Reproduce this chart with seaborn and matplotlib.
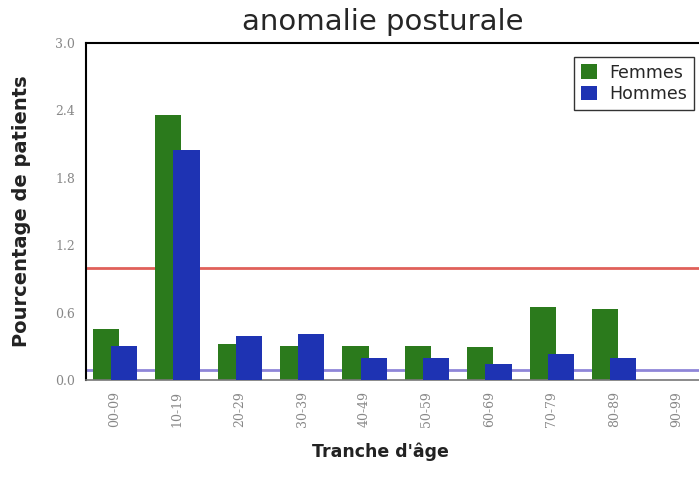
import pandas as pd
import matplotlib
matplotlib.use("Agg")
import matplotlib.pyplot as plt
import seaborn as sns

tranches = ["00-09", "10-19", "20-29", "30-39", "40-49",
            "50-59", "60-69", "70-79", "80-89", "90-99"]
femmes = [0.45, 2.36, 0.32, 0.30, 0.30, 0.30, 0.29, 0.65, 0.63, 0.0]
hommes = [0.30, 2.05, 0.39, 0.41, 0.20, 0.20, 0.14, 0.23, 0.20, 0.0]
ref_haut = 1.0   # red reference line
ref_bas = 0.09   # purple reference line

df = pd.DataFrame({
    "tranche": tranches * 2,
    "valeur": femmes + hommes,
    "sexe": ["Femmes"] * len(tranches) + ["Hommes"] * len(tranches),
})

sns.set_style("white")
fig = plt.figure(figsize=(6.99, 4.94), dpi=100)
ax = fig.add_axes([86 / 699, 114 / 494, 1 - 86 / 699, 337 / 494])

ax.axhline(ref_haut, color="#e0605a", lw=2, zorder=0)
ax.axhline(ref_bas, color="#8f86d8", lw=2, zorder=0)

sns.barplot(data=df, x="tranche", y="valeur", hue="sexe",
            palette={"Femmes": "#2b7a1c", "Hommes": "#1e33b3"},
            width=0.7, saturation=1, linewidth=0, edgecolor="none",
            ax=ax, zorder=2)

# bars of a group overlap slightly in the original
for p in ax.patches:
    if p.get_width() == 0:
        continue
    cx = p.get_x() + p.get_width() / 2
    grp = round(cx)
    off = 0.145 if cx > grp else -0.145
    p.set_width(0.42)
    p.set_x(grp + off - 0.21)
    p.set_zorder(3 if off > 0 else 2)

ax.set_xlim(-0.465, 9.36)
ax.set_ylim(0, 3.0)
ax.set_yticks([0.0, 0.6, 1.2, 1.8, 2.4, 3.0])
ax.set_yticklabels(["0.0", "0.6", "1.2", "1.8", "2.4", "3.0"],
                   family="DejaVu Serif", color="#888888", fontsize=9)
ax.set_xticks(range(len(tranches)))
ax.set_xticklabels(tranches, rotation=90, family="DejaVu Serif",
                   color="#888888", fontsize=9)
ax.tick_params(axis="y", direction="in", length=5, width=1.2, color="black", pad=8)
ax.tick_params(axis="x", length=0, pad=8)

ax.spines["left"].set_color("black")
ax.spines["left"].set_linewidth(1.5)
ax.spines["top"].set_color("black")
ax.spines["top"].set_linewidth(1.5)
ax.spines["bottom"].set_color("#777777")
ax.spines["bottom"].set_linewidth(1.2)
ax.spines["right"].set_visible(False)

ax.set_xlabel("")
ax.set_ylabel("")
fig.text(383 / 699, 1 - 22 / 494, "anomalie posturale", ha="center", va="center",
         fontsize=21, family="DejaVu Sans")
fig.text(22 / 699, 1 - 211 / 494, "Pourcentage de patients", rotation=90,
         ha="center", va="center", fontsize=14, fontweight="bold", color="#222222")
fig.text(380 / 699, 1 - 452 / 494, "Tranche d'âge", ha="center", va="center",
         fontsize=12.5, fontweight="bold", color="#222222")

leg = ax.legend(loc="upper right", bbox_to_anchor=(1.006, 0.985), frameon=True,
                fancybox=False, edgecolor="black", handlelength=0.9,
                handleheight=0.9, fontsize=12.5, borderpad=0.4,
                handletextpad=0.7, labelspacing=0.2)
leg.get_frame().set_linewidth(1)

fig.savefig("out.png", dpi=100)
